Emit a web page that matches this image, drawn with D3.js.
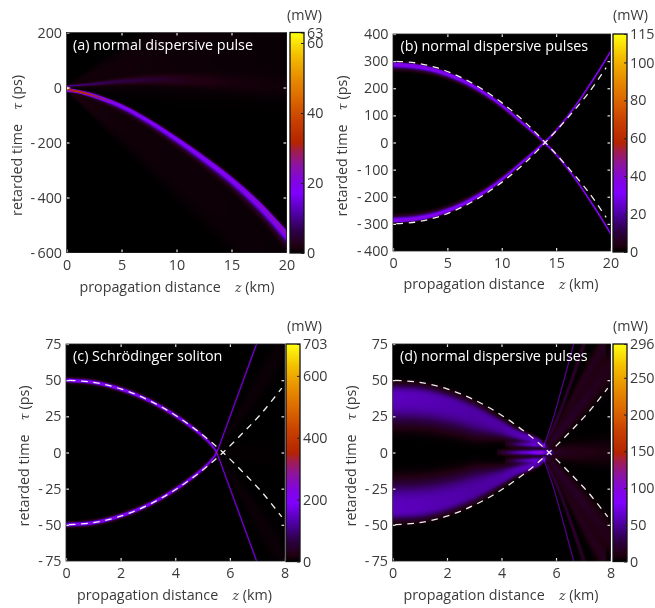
<!DOCTYPE html>
<html><head><meta charset="utf-8">
<script src="https://cdnjs.cloudflare.com/ajax/libs/d3/7.9.0/d3.min.js"></script>
<style>
html,body{margin:0;padding:0;background:#fff;width:655px;height:608px;overflow:hidden}
#wrap{position:relative;width:655px;height:608px}
canvas{position:absolute;display:block}
svg{position:absolute;left:0;top:0}
text{font-family:"Open Sans",Lato,sans-serif;fill:#3a3a3a;font-size:14.3px}
.m{font-family:"DejaVu Serif","Liberation Serif",serif;font-style:italic;font-size:12.5px}
.title{fill:#fff;font-size:14.4px}
</style></head><body><div id="wrap"></div>
<script>
// ---------- colour bar stops (fraction of full scale, colour) ----------
const cmapT=[0,.03,.1,.18,.27,.33,.4,.46,.5,.6,.7,.8,.9,1];
const cmapC=["#000000","#200010","#2e0048","#5000a8","#8000ff","#8204e0","#8c14a0","#a01c50","#b42400","#c84000","#dc6800","#e89000","#f4c000","#ffff10"];

// ---------- axis ticks ----------
const xTicksLong=[0,5,10,15,20], xTicksShort=[0,2,4,6,8];
const yTicksA=[-600,-400,-200,0,200], yTicksB=[-400,-300,-200,-100,0,100,200,300,400], yTicksCD=[-75,-50,-25,0,25,50,75];
const cTicksA=[0,20,40,60,63], cTicksB=[0,20,40,60,80,100,115], cTicksC=[0,200,400,600,703], cTicksD=[0,50,100,150,200,250,296];
const titles=["(a) normal dispersive pulse","(b) normal dispersive pulses","(c) Schrödinger soliton","(d) normal dispersive pulses"];

// ---------- ridges: rows of [z km, tau ps, spread up ps, spread down ps, power mW] ----------
const aMain=[[0,-3,2.5,6,30],[1,-10,3,7,30],[2.5,-26,5,10,24],[5,-65,6,14,20],[7.5,-120,7,16,19],[10,-185,8,18,19],[12.5,-255,8,21,20],[15,-332,9,24,20],[17.5,-422,10,28,22],[20,-528,10,34,24]];
const aLobe=[[0,-11,3,4,16],[1,-15,3,4,15],[2.5,-31,4,5,9],[4,-52,4,6,3]];
const aSpot=[[0,0,5,5,60],[0.2,0,3,3,30],[0.4,0,2,2,0]];
const aFanNarrow=[[0,7,3,3,10],[2,13,5,5,7.5],[5,24,9,9,5],[8,30,14,14,3.5],[11,28,20,20,1.8],[15,18,28,28,.8],[20,0,40,40,.4]];
const aFanTop=[[0,4,6,6,1],[5,65,80,80,1],[10,120,155,155,.8],[20,120,180,180,.5]];
const aFanLow=[[0,-8,5,5,1.6],[5,-135,72,72,.9],[10,-292,108,108,.8],[15,-465,135,135,.7],[20,-730,200,200,.5]];

const bMain=[[0,290,6,15,38],[2,284,6,15,38],[4,267,6,14,37],[6,237,6,13,36],[8,194,6,12,35],[10,137,6,10,34],[12,68,6,8,33],[13,33,6,7,33],[14,-4,6,6,33],[15,-46,6,6,33],[16,-95,6,6,33],[17,-150,6,6,34],[18,-210,6,6,35],[19,-272,6,6,36],[20,-338,6,6,38]];

const cMain=[[0,50,1.5,1.5,230],[1,48.5,1.5,1.5,230],[2,43.8,1.5,1.5,230],[3,36.2,1.5,1.5,230],[4,25.5,1.5,1.5,230],[4.8,14.5,1.5,1.5,220],[5.1,9.5,1.4,1.4,210],[5.3,5.5,1.4,1.4,200],[5.5,0,1.4,1.4,180],[5.8,-15,1.6,1.6,165],[6.4,-46,1.6,1.6,165],[7,-77,1.6,1.6,165]];
const cFanOuter=[[5.6,2,2,2,4],[6,15,5,5,7],[7,45,10,10,8],[8,75,14,14,7]];
const cFanInner=[[5.7,0,2,2,2.5],[6.5,3,4,4,2.5],[8,5,6,6,2]];

const dBand=[[0,39,8,18,60],[1,38,8,18,58],[2,34,7.5,17,55],[3,27,7,15,52],[4,18,5,8,52],[4.5,13,4,4.5,55],[5,10,3,3,58],[5.4,7.5,2,2,50],[5.6,4,2,2,25]];
const dFringeMid=[[3.8,0,1.9,1.9,4],[4.5,0,1.9,1.9,26],[5,0,1.9,1.9,36],[5.3,0,1.9,1.9,45],[5.4,0,1.5,1.5,65],[5.5,0,1.9,1.9,42],[5.7,0,1.9,1.9,28],[5.9,0,1.9,1.9,6]];
const dFringeSide=[[4.1,5.7,1.9,1.9,8],[4.6,5.6,1.9,1.9,42],[5.2,5.2,1.9,1.9,66],[5.5,4.4,1.5,1.5,40],[5.7,3.8,1,1,8]];
const dRayBright=[[5.5,3,1,1,40],[5.9,25,1.5,1.5,55],[6.3,52,1.7,1.7,55],[6.7,80,2,2,48]];
const dRaySecond=[[5.5,3,1.5,1.5,20],[6,22,2.5,2.5,26],[6.5,47,3,3,24],[7.1,80,4,4,18]];
const dFanMain=[[5.6,2,2,2,10],[6,11,4,4,18],[7,35,8,8,16],[8,60,12,12,11]];
const dFanFar=[[5.6,3,2,2,6],[7,50,7,7,13],[7.8,76,9,9,13]];
const dGlow=[[5.7,0,3,3,9],[6.5,0,6,6,6],[8,0,9,9,3.5]];

// ---------- dashed guide curves: rows of [z km, tau ps], up to and past the crossing ----------
const bGuide=[[0,300],[2,294],[4,276],[6,245],[8,202],[10,147],[12,80],[14,0],[16,-88],[18,-184],[19.6,-276]];
const cdGuide=[[0,50],[1,48.5],[2,44],[3,36.4],[4,25.8],[5,12.2],[5.75,0],[6.5,-14],[7.2,-28],[7.9,-44.5]];
const bCross=14, cdCross=5.75;

// ---------- panels ----------
const panels=[
 {x0:66.5,x1:286.5,y0:32.5,y1:252.5,bx:290,bw:14,bBottom:253,zMax:20,tMin:-600,tMax:200,xt:xTicksLong,yt:yTicksA,cMax:63,ct:cTicksA,title:0,tx:73,ty:50,xl:177,xb:292,yl:17,yc:145.5,mx:287,my:19.5,mirror:false,
  ridges:[{r:aFanTop,n:4},{r:aFanLow,n:4},{r:aFanNarrow},{r:aMain},{r:aLobe},{r:aSpot}]},
 {x0:393,x1:610.5,y0:34,y1:251,bx:613,bw:14,bBottom:252,zMax:20,tMin:-400,tMax:400,xt:xTicksLong,yt:yTicksB,cMax:115,ct:cTicksB,title:1,tx:400.5,ty:51,xl:501,xb:289,yl:342,yc:146,mx:613,my:20,mirror:true,guide:bGuide,cross:bCross,
  ridges:[{r:bMain}]},
 {x0:66,x1:284.5,y0:344,y1:561,bx:286,bw:14,bBottom:561.5,zMax:8,tMin:-75,tMax:75,xt:xTicksShort,yt:yTicksCD,cMax:703,ct:cTicksC,title:2,tx:73,ty:361,xl:174.5,xb:600,yl:24,yc:456,mx:287,my:331,mirror:true,guide:cdGuide,cross:cdCross,
  ridges:[{r:cFanOuter},{r:cFanInner},{r:cMain}]},
 {x0:392.5,x1:610.5,y0:344,y1:561,bx:613,bw:14,bBottom:561.5,zMax:8,tMin:-75,tMax:75,xt:xTicksShort,yt:yTicksCD,cMax:296,ct:cTicksD,title:3,tx:400,ty:361,xl:501,xb:600,yl:351,yc:456,mx:613,my:331,mirror:true,guide:cdGuide,cross:cdCross,
  ridges:[{r:dGlow},{r:dFanFar},{r:dFanMain},{r:dRaySecond},{r:dRayBright},{r:dBand,n:3},{r:dFringeSide},{r:dFringeMid}]}
];

const colour=d3.scaleLinear().domain(cmapT).range(cmapC).interpolate(d3.interpolateRgb).clamp(true);

// smooth reader through a ridge's centre knots (Catmull-Rom on z)
function centre(rows){
  const zs=rows.map(d=>d[0]),vs=rows.map(d=>d[1]),n=zs.length;
  const m=zs.map((z,i)=>i==0?(vs[1]-vs[0])/(zs[1]-zs[0]):i==n-1?(vs[n-1]-vs[n-2])/(zs[n-1]-zs[n-2]):(vs[i+1]-vs[i-1])/(zs[i+1]-zs[i-1]));
  const bis=d3.bisector(d=>d).right;
  return z=>{
    let i=Math.max(0,Math.min(n-2,bis(zs,z)-1));
    const h=zs[i+1]-zs[i],t=(z-zs[i])/h,t2=t*t,t3=t2*t;
    return (2*t3-3*t2+1)*vs[i]+(t3-2*t2+t)*h*m[i]+(-2*t3+3*t2)*vs[i+1]+(t3-t2)*h*m[i+1];
  };
}
function prep(R){
  const rows=R.r,zs=rows.map(d=>d[0]);
  const at=k=>d3.scaleLinear().domain(zs).range(rows.map(d=>d[k]));
  return {lo:zs[0],hi:zs[zs.length-1],c:centre(rows),up:at(2),dn:at(3),p:at(4),n:R.n||2};
}

const wrap=d3.select("#wrap");
const svg=wrap.append("svg").attr("width",655).attr("height",608);
const defs=svg.append("defs");

panels.forEach((P,pi)=>{
  const x=d3.scaleLinear().domain([0,P.zMax]).range([P.x0,P.x1]);
  const y=d3.scaleLinear().domain([P.tMin,P.tMax]).range([P.y1,P.y0]);
  const W=Math.round(P.x1-P.x0),H=Math.round(P.y1-P.y0);
  const cv=wrap.insert("canvas","svg").attr("width",W).attr("height",H)
    .style("left",P.x0+"px").style("top",P.y0+"px").style("width",(P.x1-P.x0)+"px").style("height",(P.y1-P.y0)+"px").node();
  const ctx=cv.getContext("2d"),img=ctx.createImageData(W,H);
  const rs=P.ridges.map(prep);
  const lut=d3.range(1025).map(i=>d3.rgb(colour(i/1024)));
  const ps=d3.scaleLinear().domain([0,W]).range([0,P.zMax]);
  const pt=d3.scaleLinear().domain([0,H]).range([P.tMax,P.tMin]);
  for(let i=0;i<W;i++){
    const z=ps(i+.5);
    const act=rs.filter(r=>z>=r.lo&&z<=r.hi).map(r=>({c:r.c(z),up:r.up(z),dn:r.dn(z),p:r.p(z),n:r.n}));
    for(let j=0;j<H;j++){
      const t=pt(j+.5);let v=0;
      for(const a of act){
        const d=t-a.c;
        v+=a.p*Math.exp(-Math.pow(Math.abs(d)/(d>0?a.up:a.dn),a.n));
        if(P.mirror){const e=-t-a.c;v+=a.p*Math.exp(-Math.pow(Math.abs(e)/(e>0?a.up:a.dn),a.n));}
      }
      const c=lut[Math.min(1024,Math.round(v/P.cMax*1024))],o=(j*W+i)*4;
      img.data[o]=c.r;img.data[o+1]=c.g;img.data[o+2]=c.b;img.data[o+3]=255;
    }
  }
  ctx.putImageData(img,0,0);

  const g=svg.append("g");
  // dashed guide curves
  if(P.guide){
    const line=d3.line().x(d=>x(d[0])).y(d=>y(d[1])).curve(d3.curveCatmullRom);
    const dash=6.5,gap=5.7;
    [1,-1].forEach(s=>{
      const pts=P.guide.map(d=>[d[0],s*d[1]]);
      const path=g.append("path").attr("d",line(pts)).attr("fill","none").attr("stroke","#eeeeee").attr("stroke-width",1.3);
      const tmp=g.append("path").attr("d",line(pts.filter(d=>d[0]<=P.cross))).attr("fill","none");
      const L=tmp.node().getTotalLength();tmp.remove();
      path.attr("stroke-dasharray",dash+" "+gap).attr("stroke-dashoffset",dash/2-L);
    });
  }
  // axes
  const fmt=d=>String(d).replace("-","-\u2009");
  const inner=sel=>sel.selectAll("line").attr("stroke","#e8e8e8").attr("stroke-width",1.2);
  const clean=sel=>{sel.select(".domain").remove();sel.selectAll("text").attr("font-family",null).attr("font-size",null);};
  const ax=g.append("g").attr("transform",`translate(0,${P.y1})`).call(d3.axisBottom(x).tickValues(P.xt).tickFormat(fmt).tickSizeInner(-3).tickPadding(7));
  ax.attr("font-family",null).attr("font-size",null).call(clean).call(inner);
  ax.selectAll("text").attr("dy","0.71em");
  const ay=g.append("g").attr("transform",`translate(${P.x0},0)`).call(d3.axisLeft(y).tickValues(P.yt).tickFormat(fmt).tickSizeInner(-3).tickPadding(4.5));
  ay.attr("font-family",null).attr("font-size",null).call(clean).call(inner);
  const at=g.append("g").attr("transform",`translate(0,${P.y0})`).call(d3.axisTop(x).tickValues(P.xt.slice(1,-1)).tickFormat("").tickSizeInner(-3));
  at.call(clean).call(inner);
  const ar=g.append("g").attr("transform",`translate(${P.x1},0)`).call(d3.axisRight(y).tickValues(P.yt.slice(1,-1)).tickFormat("").tickSizeInner(-3));
  ar.call(clean).call(inner);

  // frame
  g.append("rect").attr("x",P.x0).attr("y",P.y0).attr("width",P.x1-P.x0).attr("height",P.y1-P.y0).attr("fill","none").attr("stroke","#222").attr("stroke-width",.8);

  // colour bar
  const gid="cb"+pi,grad=defs.append("linearGradient").attr("id",gid).attr("x1",0).attr("x2",0).attr("y1",1).attr("y2",0);
  cmapT.forEach((t,i)=>grad.append("stop").attr("offset",t).attr("stop-color",cmapC[i]));
  const c=d3.scaleLinear().domain([0,P.cMax]).range([P.bBottom,P.y0]);
  g.append("rect").attr("x",P.bx).attr("y",P.y0).attr("width",P.bw).attr("height",P.bBottom-P.y0).attr("fill",`url(#${gid})`).attr("stroke","#111").attr("stroke-width",1.3);
  const ac=g.append("g").attr("transform",`translate(${P.bx+P.bw},0)`).call(d3.axisRight(c).tickValues(P.ct).tickFormat(d3.format("d")).tickSizeInner(-3).tickPadding(3));
  ac.attr("font-family",null).attr("font-size",null).call(clean);
  ac.selectAll("line").attr("stroke","#222");
  g.append("text").attr("x",P.mx).attr("y",P.my).text("(mW)");

  // labels
  g.append("text").attr("class","title").attr("x",P.tx).attr("y",P.ty).text(titles[P.title]);
  const xl=g.append("text").attr("x",P.xl).attr("y",P.xb).attr("text-anchor","middle");
  xl.append("tspan").text("propagation distance\u2003");
  xl.append("tspan").attr("class","m").text("z");
  xl.append("tspan").text(" (km)");
  const yl=g.append("text").attr("transform",`translate(${P.yl+5},${P.yc}) rotate(-90)`).attr("text-anchor","middle");
  yl.append("tspan").text("retarded time\u2003");
  yl.append("tspan").attr("class","m").text("τ");
  yl.append("tspan").text(" (ps)");
});
</script></body></html>
